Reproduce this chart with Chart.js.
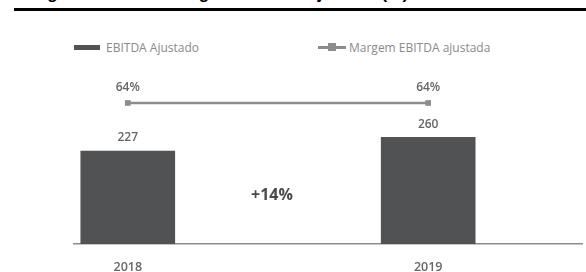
<!DOCTYPE html>
<html>
<head>
<meta charset="utf-8">
<script src="https://cdn.jsdelivr.net/npm/chart.js@4.4.1/dist/chart.umd.min.js"></script>
<style>
    body { margin: 0; width: 586px; height: 272px; overflow: hidden; background: #fff; position: relative; font-family: 'Open Sans', sans-serif; }
    #title { position: absolute; left: 17px; top: -15px; font: bold 17px 'Liberation Sans', Arial, sans-serif; color: #000; white-space: nowrap; line-height: 17px; }
    #rule { position: absolute; left: 14px; right: 0; top: 8px; height: 3px; background: #000; }
    #chartBox { position: absolute; left: 0; top: 0; width: 586px; height: 272px; }
    .lg { position: absolute; top: 39px; font-size: 12px; color: #8a8a8a; display: flex; align-items: center; white-space: nowrap; }
    .lg .sw { width: 26px; height: 5px; background: #515254; margin-right: 6px; }
    .lg .ln { position: relative; width: 28px; height: 2.5px; background: #8c8c8c; margin-right: 3px; }
    .lg .ln i { position: absolute; left: 10px; top: -3px; width: 8px; height: 8px; background: #8c8c8c; }
</style>
</head>
<body>
<div id="title">Margem EBITDA e Margem EBITDA Ajustada (%)</div>
<div id="rule"></div>
<div class="lg" style="left:74px"><span class="sw"></span><span id="lgBar"></span></div>
<div class="lg" style="left:318px"><span class="ln"><i></i></span><span id="lgLine"></span></div>
<div id="chartBox"><canvas id="chart"></canvas></div>
<script>
// dados
const years = ['2018', '2019'];
const ebitda = [227, 260];        // EBITDA Ajustado
const margem = [64, 64];          // Margem EBITDA ajustada (%)
const seriesNames = ['EBITDA Ajustado', 'Margem EBITDA ajustada'];
const growthLabel = '+14%';

const BAR_COLOR = '#515254';
const LINE_COLOR = '#8c8c8c';
const LABEL_COLOR = '#666';

document.getElementById('lgBar').textContent = seriesNames[0];
document.getElementById('lgLine').textContent = seriesNames[1];

// rótulos de valor + variação entre barras
const valueLabels = {
    id: 'valueLabels',
    afterDatasetsDraw(chart) {
        const ctx = chart.ctx;
        const bars = chart.getDatasetMeta(1).data;
        const pts = chart.getDatasetMeta(0).data;
        ctx.save();
        ctx.textAlign = 'center';
        ctx.textBaseline = 'middle';
        ctx.fillStyle = LABEL_COLOR;
        ctx.font = '600 12px "Open Sans"';
        bars.forEach((el, i) => ctx.fillText(String(ebitda[i]), el.x, el.y - 13));
        pts.forEach((el, i) => ctx.fillText(margem[i] + '%', el.x, el.y - 15));
        const midX = (bars[0].x + bars[1].x) / 2 - 6;
        ctx.fillStyle = '#4a4a4a';
        ctx.font = 'bold 16px "Open Sans"';
        ctx.fillText(growthLabel, midX, chart.scales.y.getPixelForValue(119));
        ctx.restore();
    }
};

new Chart(document.getElementById('chart'), {
    data: {
        datasets: [
            {
                type: 'line',
                label: seriesNames[1],
                data: years.map((y, i) => ({ x: i, y: margem[i] })),
                yAxisID: 'y2',
                borderColor: LINE_COLOR,
                borderWidth: 2.5,
                pointStyle: 'rect',
                pointRadius: 4,
                pointBackgroundColor: LINE_COLOR,
                pointBorderWidth: 0,
                order: 0,
            },
            {
                type: 'bar',
                label: seriesNames[0],
                data: years.map((y, i) => ({ x: i, y: ebitda[i] })),
                backgroundColor: BAR_COLOR,
                barThickness: 94,
                yAxisID: 'y',
                order: 1,
            },
        ],
    },
    options: {
        responsive: true,
        maintainAspectRatio: false,
        animation: false,
        layout: { padding: { left: 74, right: 3, top: 60, bottom: 0 } },
        plugins: { legend: { display: false }, tooltip: { enabled: false } },
        scales: {
            x: {
                type: 'linear',
                offset: false,
                bounds: 'data',
                min: -0.179,
                max: 1.512,
                afterBuildTicks: (s) => { s.ticks = years.map((y, i) => ({ value: i })); },
                afterFit: (s) => { s.height = 28; },
                ticks: {
                    callback: (v) => years[v],
                    color: '#666',
                    font: { family: 'Open Sans', size: 12.5, weight: '600' },
                    padding: 16,
                    autoSkip: false,
                    maxRotation: 0,
                },
                grid: { display: false, drawTicks: false },
                border: { display: true, color: '#8c8c8c', width: 1.5 },
            },
            y: { display: false, min: 0, max: 449 },
            y2: { display: false, min: 0, max: 83.5 },
        },
    },
    plugins: [valueLabels],
});
</script>
</body>
</html>
